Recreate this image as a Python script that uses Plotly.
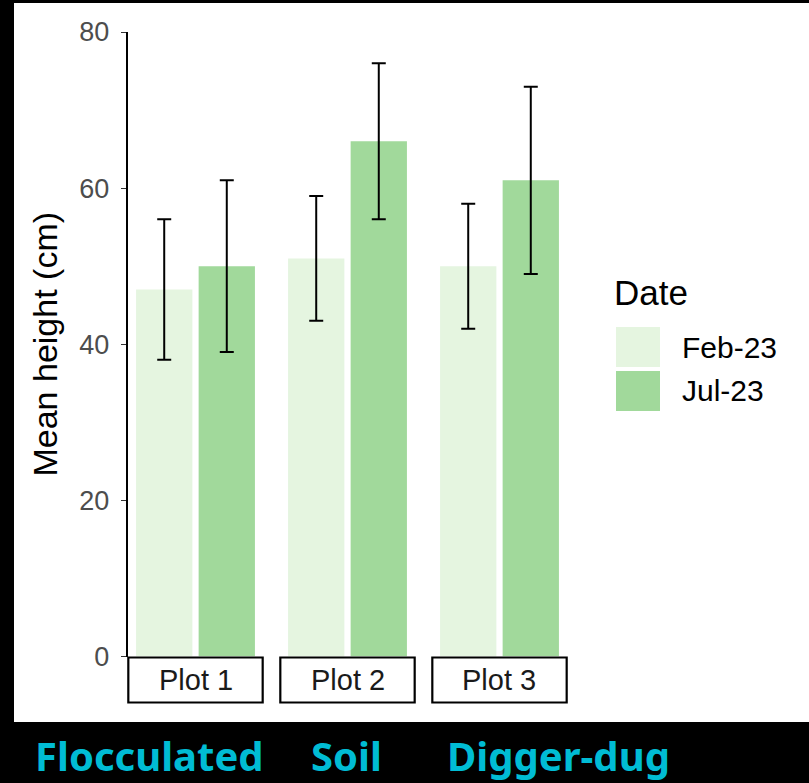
import plotly.graph_objects as go

# ---- data ----
plots = ["Plot 1", "Plot 2", "Plot 3"]
dates = ["Feb-23", "Jul-23"]
mean_feb = [47, 51, 50]
low_feb = [38, 43, 42]
high_feb = [56, 59, 58]
mean_jul = [50, 66, 61]
low_jul = [39, 56, 49]
high_jul = [61, 76, 73]
captions = ["Flocculated", "Soil", "Digger-dug"]

colors = {"Feb-23": "#e5f5e0", "Jul-23": "#a1d99b"}
series = {
    "Feb-23": (mean_feb, low_feb, high_feb),
    "Jul-23": (mean_jul, low_jul, high_jul),
}

W, H = 809, 783
FONT = "Liberation Sans, Arial, Helvetica, sans-serif"


def fx(px):
    return px / W


def fy(py):
    return 1 - py / H


# facet panels (pixel extents)
facet_left = [127.5, 279.5, 431.5]
facet_width = 136
y_top_px, y_bot_px = 32, 656.5

fig = go.Figure()

for i, plot in enumerate(plots):
    ax = "" if i == 0 else str(i + 1)
    for d in dates:
        means, lows, highs = series[d]
        fig.add_trace(go.Bar(
            x=[plot], y=[means[i]], name=d,
            marker=dict(color=colors[d], line=dict(width=0)),
            error_y=dict(type="data", symmetric=False,
                         array=[highs[i] - means[i]],
                         arrayminus=[means[i] - lows[i]],
                         color="black", thickness=2, width=7),
            xaxis="x" + ax, yaxis="y" + ax,
            showlegend=False,
        ))

layout = dict(
    width=W, height=H, autosize=False,
    margin=dict(l=0, r=0, t=0, b=0, pad=0, autoexpand=False),
    paper_bgcolor="black", plot_bgcolor="rgba(0,0,0,0)",
    barmode="group", bargap=0.08, bargroupgap=0.1,
    showlegend=False,
)

ydom = [fy(y_bot_px), fy(y_top_px)]
for i in range(3):
    ax = "" if i == 0 else str(i + 1)
    left = facet_left[i]
    layout["xaxis" + ax] = dict(
        domain=[fx(left), fx(left + facet_width)],
        range=[-0.5, 0.5], showticklabels=False, showline=False,
        showgrid=False, zeroline=False, ticks="", anchor="y" + ax,
        fixedrange=True, automargin=False,
    )
    if i == 0:
        layout["yaxis"] = dict(
            domain=ydom, range=[0, 80], dtick=20, anchor="x",
            showline=True, linecolor="black", linewidth=1.8,
            ticks="outside", ticklen=5, tickwidth=1.3, tickcolor="#333333",
            tickfont=dict(family=FONT, size=27, color="#4d4d4d"),
            ticklabelstandoff=6, automargin=False,
            showgrid=False, zeroline=False,
            title=dict(text="Mean height (cm)", standoff=11,
                       font=dict(family=FONT, size=34, color="black")),
        )
    else:
        layout["yaxis" + ax] = dict(
            domain=ydom, range=[0, 80], matches="y", visible=False,
            anchor="x" + ax, showgrid=False, zeroline=False,
            automargin=False,
        )

fig.update_layout(**layout)

shapes = []
annotations = []

# white chart card
shapes.append(dict(type="rect", xref="paper", yref="paper",
                   x0=fx(14), x1=1, y0=fy(722), y1=fy(3),
                   fillcolor="white", line=dict(width=0), layer="below"))

# facet strips under each panel
for i, plot in enumerate(plots):
    ax = "x" if i == 0 else "x" + str(i + 1)
    shapes.append(dict(type="rect", xref=ax + " domain", yref="paper",
                       x0=0.006, x1=0.994, y0=fy(702.5), y1=fy(657.5),
                       fillcolor="white", line=dict(color="black", width=2.2)))
    annotations.append(dict(text=plot, xref=ax + " domain", yref="paper",
                            x=0.5, y=fy(680), xanchor="center", yanchor="middle",
                            showarrow=False,
                            font=dict(family=FONT, size=29, color="#1a1a1a")))

# legend
annotations.append(dict(text="Date", xref="paper", yref="paper",
                        x=fx(612), y=fy(292), xanchor="left", yanchor="middle",
                        showarrow=False,
                        font=dict(family=FONT, size=35, color="black")))
key_top = [327, 371]
for d, top in zip(dates, key_top):
    shapes.append(dict(type="rect", xref="paper", yref="paper",
                       x0=fx(616), x1=fx(660), y0=fy(top + 40), y1=fy(top),
                       fillcolor=colors[d], line=dict(width=0)))
    annotations.append(dict(text=d, xref="paper", yref="paper",
                            x=fx(680), y=fy(top + 20), xanchor="left",
                            yanchor="middle", showarrow=False,
                            font=dict(family=FONT, size=30, color="black")))

# captions on the dark band
caption_x = [149.5, 346, 558]
for txt, cx in zip(captions, caption_x):
    annotations.append(dict(text="<b>" + txt + "</b>", xref="paper", yref="paper",
                            x=fx(cx), y=fy(755), xanchor="center",
                            yanchor="middle", showarrow=False,
                            font=dict(family="Noto Sans, Open Sans, sans-serif",
                                      size=40, color="#00bcd4")))

fig.update_layout(shapes=shapes, annotations=annotations)

fig.write_html("out.html")
